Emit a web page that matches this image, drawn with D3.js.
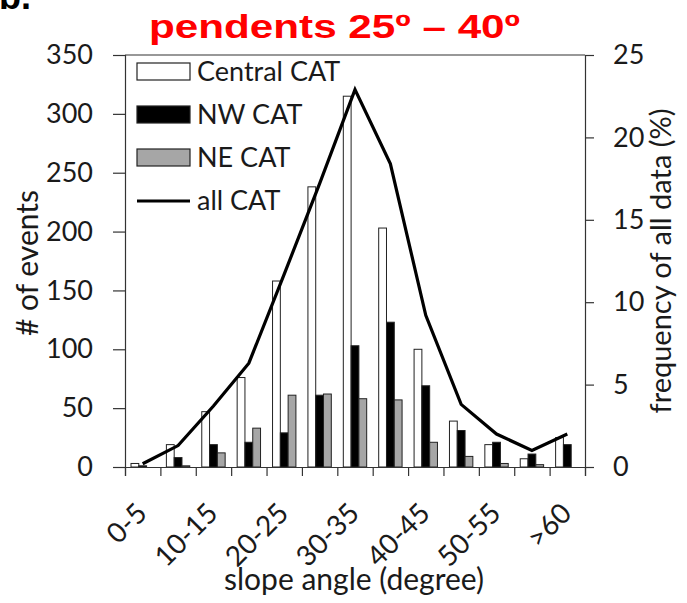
<!DOCTYPE html>
<html>
<head>
<meta charset="utf-8">
<script src="https://cdn.jsdelivr.net/npm/d3@7"></script>
<style>
  body { margin: 0; background: #fff; }
  text { font-family: Lato, "Open Sans", sans-serif; fill: #1a1a1a; }
</style>
</head>
<body>
<div class="card"></div>
<script>
// slope classes (x axis)
var categories = ["0-5", "5-10", "10-15", "15-20", "20-25", "25-30", "30-35", "35-40", "40-45", "45-50", "50-55", "55-60", ">60"];
var shownLabels = ["0-5", "10-15", "20-25", "30-35", "40-45", "50-55", ">60"];
// # of events per region
var central = [3, 19, 47, 76, 158, 238, 315, 203, 100, 39, 19, 7, 25];
var nw = [1, 8, 19, 21, 29, 61, 103, 123, 69, 31, 21, 11, 19];
var ne = [0, 1, 12, 33, 61, 62, 58, 57, 21, 9, 3, 2, 0];
// frequency of all data (%)
var allCat = [0.2, 1.3, 3.7, 6.3, 11.7, 17.2, 22.9, 18.4, 9.2, 3.8, 2.0, 1.0, 2.0];
var seriesNames = ["Central CAT", "NW CAT", "NE CAT"];
var leftTicks = [0, 50, 100, 150, 200, 250, 300, 350];
var rightTicks = [0, 5, 10, 15, 20, 25];

var W = 687, H = 603;
var plot = { left: 125, right: 585, top: 55, bottom: 467 };
var fills = { "Central CAT": "#ffffff", "NW CAT": "#000000", "NE CAT": "#a6a6a6" };

var svg = d3.select('.card')
  .append('svg')
  .attr('width', W)
  .attr('height', H);

var x = d3.scaleBand()
  .domain(categories)
  .range([plot.left, plot.right])
  .padding(0);

var xSub = d3.scaleBand()
  .domain(seriesNames)
  .range([0, x.bandwidth()])
  .paddingInner(0)
  .paddingOuter(0.77);

var yLeft = d3.scaleLinear().domain([0, 350]).range([plot.bottom, plot.top]);
var yRight = d3.scaleLinear().domain([0, 25]).range([plot.bottom, plot.top]);

// bar table built from the arrays
var rows = categories.map((c, i) => ({
  cat: c,
  values: [
    { s: "Central CAT", v: central[i] },
    { s: "NW CAT", v: nw[i] },
    { s: "NE CAT", v: ne[i] }
  ]
}));

var groups = svg.selectAll('.grp')
  .data(rows)
  .enter()
  .append('g')
  .attr('transform', d => `translate(${x(d.cat)},0)`);

groups.selectAll('rect')
  .data(d => d.values.filter(e => e.v > 0))
  .enter()
  .append('rect')
  .attr('x', d => xSub(d.s))
  .attr('y', d => yLeft(d.v))
  .attr('width', xSub.bandwidth())
  .attr('height', d => yLeft(0) - yLeft(d.v))
  .style('fill', d => fills[d.s])
  .style('stroke', '#222')
  .style('stroke-width', 1);

// all CAT line
var line = d3.line()
  .x((d, i) => x(categories[i]) + x.bandwidth() / 2)
  .y(d => yRight(d));

svg.append('path')
  .datum(allCat)
  .attr('d', line)
  .style('fill', 'none')
  .style('stroke', '#000')
  .style('stroke-width', 3.2)
  .style('stroke-linejoin', 'miter');

// frame top
svg.append('line')
  .attr('x1', plot.left).attr('x2', plot.right)
  .attr('y1', plot.top).attr('y2', plot.top)
  .style('stroke', '#333').style('stroke-width', 1.2);

// left axis
var leftAxis = d3.axisLeft(yLeft).tickValues(leftTicks).tickSize(12).tickPadding(20);
var gl = svg.append('g').attr('class', 'yAxis')
  .attr('transform', `translate(${plot.left},0)`)
  .call(leftAxis);

// right axis
var rightAxis = d3.axisRight(yRight).tickValues(rightTicks).tickSize(9).tickPadding(19);
var gr = svg.append('g').attr('class', 'yAxis')
  .attr('transform', `translate(${plot.right},0)`)
  .call(rightAxis);

// bottom axis: ticks on class boundaries
var edge = d3.scaleLinear().domain([0, categories.length]).range([plot.left, plot.right]);
var bottomAxis = d3.axisBottom(edge).tickValues(d3.range(categories.length + 1)).tickSize(9).tickFormat('');
var gb = svg.append('g').attr('class', 'xAxis')
  .attr('transform', `translate(0,${plot.bottom})`)
  .call(bottomAxis);

[gl, gr, gb].forEach(g => {
  g.select('.domain').style('stroke', '#333').style('stroke-width', 1.2);
  g.selectAll('.tick line').style('stroke', '#333').style('stroke-width', 1.2);
  g.selectAll('.tick text').style('font-size', '27px').style('fill', '#1a1a1a')
    .style('font-family', 'Lato, sans-serif');
});

// rotated class labels
svg.selectAll('.xlab')
  .data(shownLabels)
  .enter()
  .append('text')
  .attr('class', 'xlab')
  .attr('text-anchor', 'end')
  .attr('transform', d => `translate(${x(d) + x.bandwidth() / 2 + 6},${plot.bottom + 48}) rotate(-45)`)
  .style('font-size', '28px')
  .text(d => d);

// axis titles
svg.append('text')
  .attr('x', (plot.left + plot.right) / 2 - 1)
  .attr('y', 590)
  .attr('text-anchor', 'middle')
  .style('font-size', '30px')
  .text('slope angle (degree)');

svg.append('text')
  .attr('transform', `translate(38,${(plot.top + plot.bottom) / 2 + 2}) rotate(-90)`)
  .attr('text-anchor', 'middle')
  .style('font-size', '30px')
  .text('# of events');

svg.append('text')
  .attr('transform', `translate(671,${(plot.top + plot.bottom) / 2}) rotate(-90)`)
  .attr('text-anchor', 'middle')
  .style('font-size', '29px')
  .text('frequency of all data (%)');

// legend
var legend = svg.append('g').attr('transform', 'translate(137,63)');
seriesNames.forEach((s, i) => {
  var g = legend.append('g').attr('transform', `translate(0,${i * 43})`);
  g.append('rect')
    .attr('width', 53).attr('height', 17)
    .style('fill', fills[s]).style('stroke', '#222').style('stroke-width', 1.2);
  g.append('text')
    .attr('x', 60).attr('y', 8.5).attr('dy', '0.35em')
    .style('font-size', '27px')
    .text(s);
});
var lg = legend.append('g').attr('transform', `translate(0,${3 * 43})`);
lg.append('line')
  .attr('x1', 0).attr('x2', 53).attr('y1', 9).attr('y2', 9)
  .style('stroke', '#000').style('stroke-width', 3.2);
lg.append('text')
  .attr('x', 60).attr('y', 9).attr('dy', '0.35em')
  .style('font-size', '27px')
  .text('all CAT');

// title
svg.append('text')
  .attr('x', 149)
  .attr('y', 38)
  .attr('textLength', 371)
  .attr('lengthAdjust', 'spacingAndGlyphs')
  .style('font-family', '"Liberation Sans", Arial, sans-serif')
  .style('font-weight', 'bold')
  .style('font-size', '33px')
  .style('fill', '#ff0000')
  .text('pendents 25º – 40º');

// cut-off panel letter at top left
svg.append('text')
  .attr('x', -1)
  .attr('y', 9)
  .style('font-family', '"Liberation Sans", Arial, sans-serif')
  .style('font-weight', 'bold')
  .style('font-size', '36px')
  .style('fill', '#000')
  .text('b.');
</script>
</body>
</html>
